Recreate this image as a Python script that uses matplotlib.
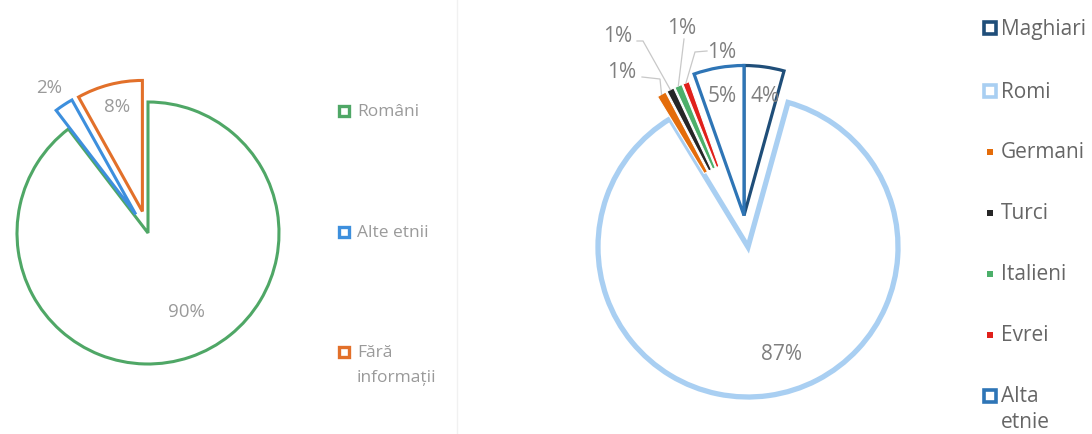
import math
import matplotlib.pyplot as plt

plt.rcParams['font.family'] = ['Open Sans', 'DejaVu Sans']

# date - graficul din stanga
etnii_st = ["Români", "Alte etnii", "Fără\ninformații"]
valori_st = [89.6, 2.3, 8.1]
culori_st = ["#4FA766", "#3D8FDD", "#E2702A"]

# date - graficul din dreapta
etnii_dr = ["Maghiari", "Romi", "Germani", "Turci", "Italieni", "Evrei", "Alta\netnie"]
valori_dr = [4.3, 87.0, 1.0, 0.8, 0.8, 0.7, 5.4]
culori_dr = ["#1F4E79", "#A9CFF2", "#E46C0A", "#262626", "#4CAF6A", "#E0201B", "#2E75B6"]

W, H = 1092, 435
fig = plt.figure(figsize=(W / 100, H / 100), dpi=100)
ax = fig.add_axes([0, 0, 1, 1])

def py(y):
    # coordonate de pixel (de sus in jos) -> coordonate axa
    return H - y

def text_linii(x, y, s, pas, **kw):
    # fiecare linie separat, pas = distanta in pixeli intre linii
    for k, linie in enumerate(s.split("\n")):
        ax.text(x, py(y + k * pas), linie, ha="left", va="center", **kw)

# ---- pie stanga ----
cx1, cy1, r1 = 148, py(234), 131
w1, _ = ax.pie(valori_st, center=(cx1, cy1), radius=r1, startangle=90,
               counterclock=False, explode=[0, 0.17 * r1, 0.17 * r1],
               colors=culori_st)
for w, c in zip(w1, culori_st):
    w.set_facecolor("white")
    w.set_edgecolor(c)
    w.set_linewidth(2.2)
    w.set_joinstyle("miter")

gri_st = "#9A9A9A"
proc_st = [f"{v:.0f}%" for v in valori_st]
ax.text(186, py(312), proc_st[0], fontsize=13.5, color=gri_st, ha="center", va="center")
ax.text(49, py(88), proc_st[1], fontsize=13.5, color=gri_st, ha="center", va="center")
ax.text(117, py(107), proc_st[2], fontsize=13.5, color=gri_st, ha="center", va="center")

# legenda stanga
leg_y_st = [112, 233, 353]
for nume, c, y in zip(etnii_st, culori_st, leg_y_st):
    ax.plot(344, py(y), marker="s", ms=7, mfc="white", mec=c, mew=2.4)
    text_linii(357, y, nume, 25, fontsize=12.5, color=gri_st)

# linie separatoare slaba
ax.plot([457, 457], [0, H], color="#F1F1F1", lw=1)

# ---- pie dreapta ----
cx2, cy2, r2 = 748, py(248), 150
expl = [0, 0, 0.17 * r2, 0.17 * r2, 0.17 * r2, 0.17 * r2, 0]
w2, _ = ax.pie(valori_dr, center=(cx2, cy2), radius=r2, startangle=90,
               counterclock=False, explode=expl, colors=culori_dr)
grosimi = [2.3, 3.8, 0, 0, 0, 0, 2.3]
for i, (w, c) in enumerate(zip(w2, culori_dr)):
    if grosimi[i] > 0:
        w.set_facecolor("white")
        w.set_edgecolor(c)
        w.set_linewidth(grosimi[i])
        w.set_joinstyle("miter")
    else:
        w.set_facecolor(c)
        w.set_edgecolor("white")
        w.set_linewidth(0.8)
        w.set_width(0.6 * r2)
# Maghiari si Alta etnie scoase in sus impreuna
for i in (0, 6):
    w2[i].set_center((cx2 - 4, cy2 + 0.21 * r2))
w2[6].set_zorder(3)

gri_dr = "#7F7F7F"
proc_dr = [f"{v:.0f}%" for v in valori_dr]
ax.text(782, py(355), proc_dr[1], fontsize=15, color=gri_dr, ha="center", va="center")
ax.text(765, py(97), proc_dr[0], fontsize=15, color=gri_dr, ha="center", va="center")
ax.text(722, py(97), proc_dr[6], fontsize=15, color=gri_dr, ha="center", va="center")

# etichete 1% cu linii de legatura
pos_et = {2: (622, 73), 3: (618, 37), 4: (682, 28), 5: (722, 52)}
coturi = {2: [(642, 78), (660, 80)], 3: [(637, 42), (643, 42)],
          4: [(684, 40)], 5: [(707, 52), (695, 53)]}
for i, (tx, ty) in pos_et.items():
    w = w2[i]
    tm = math.radians((w.theta1 + w.theta2) / 2)
    ex = w.center[0] + w.r * math.cos(tm)
    ey = w.center[1] + w.r * math.sin(tm)
    xs = [p[0] for p in coturi[i]] + [ex]
    ys = [py(p[1]) for p in coturi[i]] + [ey]
    ax.plot(xs, ys, color="#C8C8C8", lw=0.9, solid_joinstyle="miter")
    ax.text(tx, py(ty), proc_dr[i], fontsize=15, color=gri_dr, ha="center", va="center")

# legenda dreapta
leg_y_dr = [29, 92, 153, 214, 275, 336, 397]
gri_leg = "#666666"
for i, (nume, c, y) in enumerate(zip(etnii_dr, culori_dr, leg_y_dr)):
    if grosimi[i] > 0:
        ax.plot(990, py(y), marker="s", ms=8.5, mfc="white", mec=c, mew=2.6)
    else:
        ax.plot(990, py(y), marker="s", ms=5, mfc=c, mec=c, mew=0)
    text_linii(1001, y, nume, 26, fontsize=15, color=gri_leg)

ax.set_xlim(0, W)
ax.set_ylim(0, H)
ax.set_aspect("auto")
ax.axis("off")

fig.savefig("out.png", dpi=100)
